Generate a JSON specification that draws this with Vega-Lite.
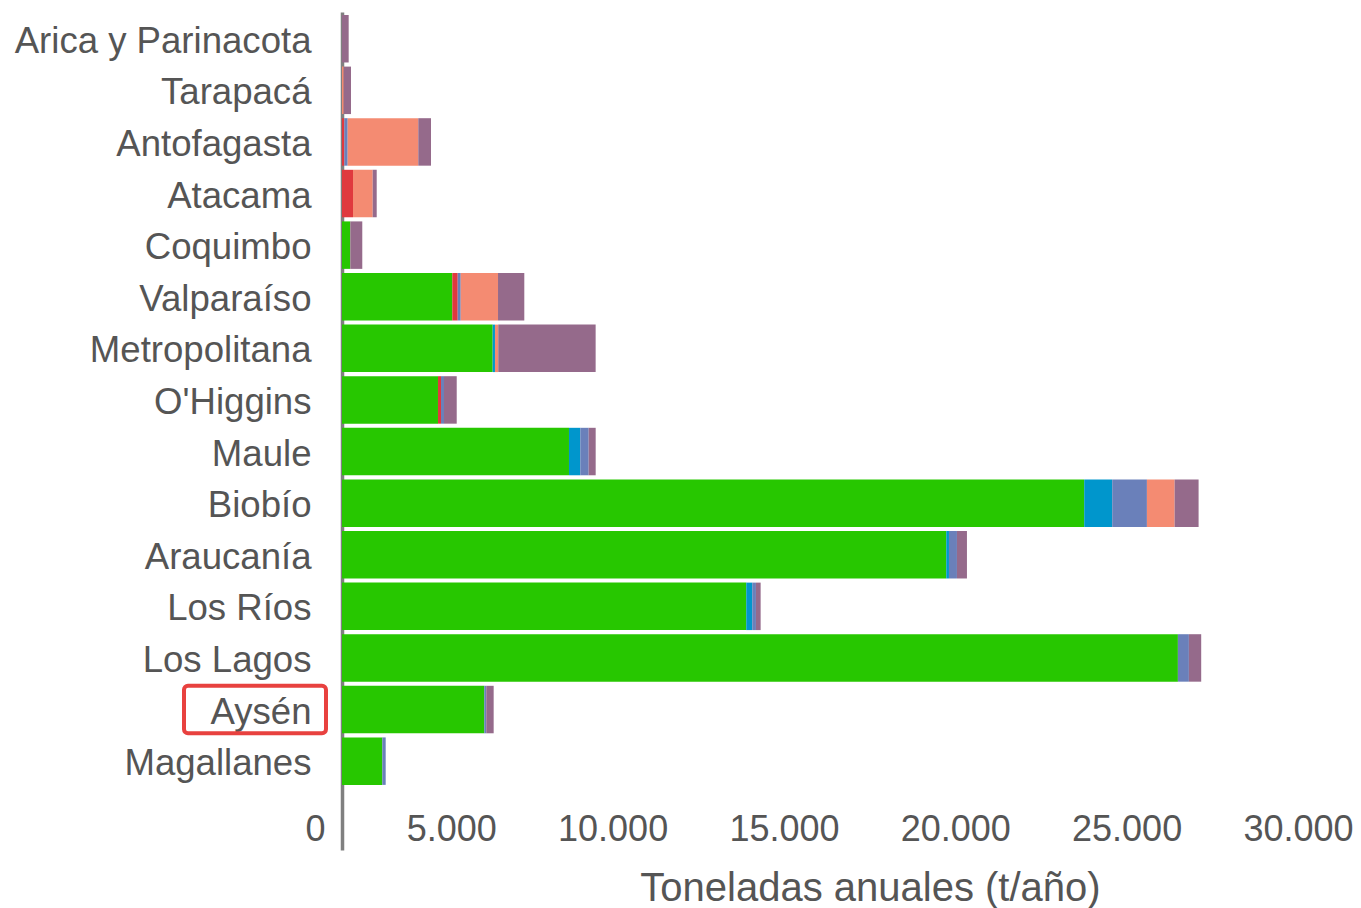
{
  "$schema": "https://vega.github.io/schema/vega-lite/v6.json",
  "autosize": {"type": "none"},
  "width": 1019,
  "height": 838,
  "padding": {"left": 342, "top": 12, "right": 0, "bottom": 58},
  "background": "white",
  "config": {
    "view": {"stroke": null},
    "font": "Liberation Sans"
  },
  "datasets": {
    "emisiones": [
      {"region": "Arica y Parinacota", "fuente": "Otras fuentes", "orden": 6, "t": 195},
      {"region": "Tarapacá", "fuente": "Minería", "orden": 5, "t": 50},
      {"region": "Tarapacá", "fuente": "Otras fuentes", "orden": 6, "t": 213},
      {"region": "Antofagasta", "fuente": "Fundiciones", "orden": 2, "t": 67},
      {"region": "Antofagasta", "fuente": "Industria", "orden": 4, "t": 99},
      {"region": "Antofagasta", "fuente": "Minería", "orden": 5, "t": 2060},
      {"region": "Antofagasta", "fuente": "Otras fuentes", "orden": 6, "t": 371},
      {"region": "Atacama", "fuente": "Fundiciones", "orden": 2, "t": 321},
      {"region": "Atacama", "fuente": "Minería", "orden": 5, "t": 575},
      {"region": "Atacama", "fuente": "Otras fuentes", "orden": 6, "t": 117},
      {"region": "Coquimbo", "fuente": "Leña", "orden": 1, "t": 242},
      {"region": "Coquimbo", "fuente": "Otras fuentes", "orden": 6, "t": 350},
      {"region": "Valparaíso", "fuente": "Leña", "orden": 1, "t": 3219},
      {"region": "Valparaíso", "fuente": "Fundiciones", "orden": 2, "t": 158},
      {"region": "Valparaíso", "fuente": "Industria", "orden": 4, "t": 88},
      {"region": "Valparaíso", "fuente": "Minería", "orden": 5, "t": 1088},
      {"region": "Valparaíso", "fuente": "Otras fuentes", "orden": 6, "t": 767},
      {"region": "Metropolitana", "fuente": "Leña", "orden": 1, "t": 4397},
      {"region": "Metropolitana", "fuente": "Generación eléctrica", "orden": 3, "t": 67},
      {"region": "Metropolitana", "fuente": "Minería", "orden": 5, "t": 96},
      {"region": "Metropolitana", "fuente": "Otras fuentes", "orden": 6, "t": 2842},
      {"region": "O'Higgins", "fuente": "Leña", "orden": 1, "t": 2801},
      {"region": "O'Higgins", "fuente": "Fundiciones", "orden": 2, "t": 88},
      {"region": "O'Higgins", "fuente": "Industria", "orden": 4, "t": 88},
      {"region": "O'Higgins", "fuente": "Otras fuentes", "orden": 6, "t": 371},
      {"region": "Maule", "fuente": "Leña", "orden": 1, "t": 6624},
      {"region": "Maule", "fuente": "Generación eléctrica", "orden": 3, "t": 330},
      {"region": "Maule", "fuente": "Industria", "orden": 4, "t": 245},
      {"region": "Maule", "fuente": "Otras fuentes", "orden": 6, "t": 204},
      {"region": "Biobío", "fuente": "Leña", "orden": 1, "t": 21660},
      {"region": "Biobío", "fuente": "Generación eléctrica", "orden": 3, "t": 817},
      {"region": "Biobío", "fuente": "Industria", "orden": 4, "t": 1013},
      {"region": "Biobío", "fuente": "Minería", "orden": 5, "t": 808},
      {"region": "Biobío", "fuente": "Otras fuentes", "orden": 6, "t": 700},
      {"region": "Araucanía", "fuente": "Leña", "orden": 1, "t": 17634},
      {"region": "Araucanía", "fuente": "Generación eléctrica", "orden": 3, "t": 79},
      {"region": "Araucanía", "fuente": "Industria", "orden": 4, "t": 233},
      {"region": "Araucanía", "fuente": "Otras fuentes", "orden": 6, "t": 292},
      {"region": "Los Ríos", "fuente": "Leña", "orden": 1, "t": 11797},
      {"region": "Los Ríos", "fuente": "Generación eléctrica", "orden": 3, "t": 175},
      {"region": "Los Ríos", "fuente": "Industria", "orden": 4, "t": 108},
      {"region": "Los Ríos", "fuente": "Otras fuentes", "orden": 6, "t": 137},
      {"region": "Los Lagos", "fuente": "Leña", "orden": 1, "t": 24394},
      {"region": "Los Lagos", "fuente": "Industria", "orden": 4, "t": 321},
      {"region": "Los Lagos", "fuente": "Otras fuentes", "orden": 6, "t": 359},
      {"region": "Aysén", "fuente": "Leña", "orden": 1, "t": 4152},
      {"region": "Aysén", "fuente": "Industria", "orden": 4, "t": 58},
      {"region": "Aysén", "fuente": "Otras fuentes", "orden": 6, "t": 216},
      {"region": "Magallanes", "fuente": "Leña", "orden": 1, "t": 1176},
      {"region": "Magallanes", "fuente": "Industria", "orden": 4, "t": 99}
    ],
    "resaltado": [
      {"region": "Aysén", "desde": -4611, "hasta": -467}
    ]
  },
  "encoding": {
    "y": {
      "field": "region",
      "type": "nominal",
      "sort": null,
      "scale": {
        "domain": ["Arica y Parinacota", "Tarapacá", "Antofagasta", "Atacama", "Coquimbo", "Valparaíso", "Metropolitana", "O'Higgins", "Maule", "Biobío", "Araucanía", "Los Ríos", "Los Lagos", "Aysén", "Magallanes"],
        "paddingInner": 0.08,
        "paddingOuter": 0.66,
        "align": 0.044
      },
      "axis": {
        "title": null,
        "domain": true,
        "domainColor": "#808080",
        "domainWidth": 3.5,
        "ticks": false,
        "tickSize": 0,
        "grid": false,
        "labelFontSize": 36.6,
        "labelColor": "#555555",
        "labelPadding": 31,
        "labelOffset": 3,
        "labelLimit": 500,
        "labelFont": "Liberation Sans"
      }
    }
  },
  "layer": [
    {
      "data": {"name": "emisiones"},
      "mark": {"type": "bar"},
      "encoding": {
        "x": {
          "field": "t",
          "type": "quantitative",
          "stack": "zero",
          "scale": {"domain": [0, 30000], "range": [0, 1028], "nice": false, "zero": true},
          "axis": {
            "values": [0, 5000, 10000, 15000, 20000, 25000, 30000],
            "labelExpr": "replace(format(datum.value, ','), ',', '.')",
            "domain": false,
            "ticks": false,
            "tickSize": 0,
            "grid": false,
            "labelFontSize": 36,
            "labelColor": "#555555",
            "labelAlign": "right",
            "labelOffset": -17,
            "labelBaseline": "alphabetic",
            "labelPadding": -10,
            "labelFlush": false,
            "labelOverlap": false,
            "labelLimit": 500,
            "labelFont": "Liberation Sans",
            "title": "Toneladas anuales (t/año)",
            "titleFontSize": 40,
            "titleFontWeight": "normal",
            "titleColor": "#555555",
            "titleFont": "Liberation Sans",
            "titleX": 528,
            "titleY": 50,
            "titleAlign": "center",
            "titleBaseline": "alphabetic"
          }
        },
        "color": {
          "field": "fuente",
          "type": "nominal",
          "legend": null,
          "scale": {
            "domain": ["Leña", "Fundiciones", "Generación eléctrica", "Industria", "Minería", "Otras fuentes"],
            "range": ["#27C700", "#E0393E", "#0096CC", "#6A80BA", "#F48B72", "#956A8B"]
          }
        },
        "order": {"field": "orden", "type": "quantitative", "sort": "ascending"}
      }
    },
    {
      "data": {"name": "resaltado"},
      "mark": {"type": "rect", "fill": null, "filled": false, "stroke": "#E8413F", "strokeWidth": 4, "cornerRadius": 4},
      "encoding": {
        "x": {"field": "desde", "type": "quantitative"},
        "x2": {"field": "hasta"}
      }
    }
  ]
}
